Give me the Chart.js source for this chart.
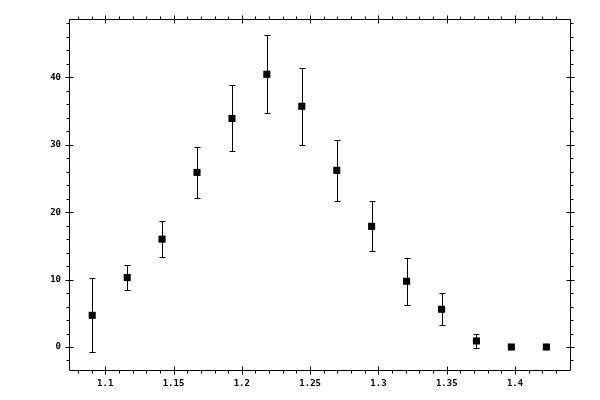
<!DOCTYPE html>
<html>
<head>
    <title>Scatter with error bars</title>
    <script src="https://cdn.jsdelivr.net/npm/chart.js"></script>
    <style>
        body { margin: 0; background: #fff; }
        #wrap { width: 600px; height: 400px; position: relative; }
    </style>
</head>
<body>
    <div id="wrap"><canvas id="plot"></canvas></div>

    <script>
        // data
        const xValues = [1.0905, 1.1161, 1.1416, 1.1672, 1.1928, 1.2183, 1.2439,
                         1.2695, 1.2950, 1.3206, 1.3462, 1.3717, 1.3973, 1.4229];
        const yValues = [4.7, 10.3, 16.0, 25.9, 33.9, 40.45, 35.7,
                         26.2, 17.9, 9.75, 5.6, 0.9, 0, 0];
        const yErrors = [5.5, 1.8, 2.7, 3.8, 4.9, 5.8, 5.7,
                         4.5, 3.7, 3.45, 2.4, 1.0, 0, 0];

        const xTicks = [1.1, 1.15, 1.2, 1.25, 1.3, 1.35, 1.4];
        const yTicks = [0, 10, 20, 30, 40];
        const xMinorStep = 0.01;
        const yMinorStep = 2;

        const points = xValues.map((x, i) => ({ x: x, y: yValues[i] }));

        // vertical error bars with small caps
        const errorBars = {
            id: 'errorBars',
            afterDatasetsDraw(chart) {
                const ctx = chart.ctx;
                const xs = chart.scales.x, ys = chart.scales.y;
                ctx.save();
                ctx.strokeStyle = '#000';
                ctx.lineWidth = 1;
                xValues.forEach((x, i) => {
                    const e = yErrors[i];
                    if (!e) return;
                    const px = Math.round(xs.getPixelForValue(x)) + 0.5;
                    const top = Math.round(ys.getPixelForValue(yValues[i] + e)) + 0.5;
                    const bot = Math.round(ys.getPixelForValue(yValues[i] - e)) + 0.5;
                    ctx.beginPath();
                    ctx.moveTo(px, top); ctx.lineTo(px, bot);
                    ctx.moveTo(px - 3, top); ctx.lineTo(px + 3, top);
                    ctx.moveTo(px - 3, bot); ctx.lineTo(px + 3, bot);
                    ctx.stroke();
                });
                ctx.restore();
            }
        };

        // box frame with ticks on all four sides
        const frame = {
            id: 'frame',
            afterDraw(chart) {
                const ctx = chart.ctx;
                const a = chart.chartArea;
                const xs = chart.scales.x, ys = chart.scales.y;
                const L = Math.round(a.left) + 0.5, R = Math.round(a.right) + 0.5;
                const T = Math.round(a.top) + 0.5, B = Math.round(a.bottom) + 0.5;
                ctx.save();
                ctx.strokeStyle = '#000';
                ctx.lineWidth = 1;
                ctx.beginPath();
                ctx.rect(L, T, R - L, B - T);

                const isMajor = (v, list) => list.some(t => Math.abs(t - v) < 1e-6);

                // x ticks (bottom and top)
                const x0 = Math.ceil(xs.min / xMinorStep) * xMinorStep;
                for (let v = x0; v <= xs.max + 1e-9; v += xMinorStep) {
                    const vv = Math.round(v * 1000) / 1000;
                    const px = Math.round(xs.getPixelForValue(vv)) + 0.5;
                    if (px <= L || px >= R) continue;
                    if (isMajor(vv, xTicks)) {
                        ctx.moveTo(px, B - 4); ctx.lineTo(px, B + 4);
                        ctx.moveTo(px, T + 4); ctx.lineTo(px, T - 4);
                    } else {
                        ctx.moveTo(px, B); ctx.lineTo(px, B + 3);
                        ctx.moveTo(px, T); ctx.lineTo(px, T - 3);
                    }
                }
                // y ticks (left and right)
                const y0 = Math.ceil(ys.min / yMinorStep) * yMinorStep;
                for (let v = y0; v <= ys.max + 1e-9; v += yMinorStep) {
                    const py = Math.round(ys.getPixelForValue(v)) + 0.5;
                    if (py <= T || py >= B) continue;
                    if (isMajor(v, yTicks)) {
                        ctx.moveTo(L - 4, py); ctx.lineTo(L + 4, py);
                        ctx.moveTo(R + 4, py); ctx.lineTo(R - 4, py);
                    } else {
                        ctx.moveTo(L, py); ctx.lineTo(L - 3, py);
                        ctx.moveTo(R, py); ctx.lineTo(R + 3, py);
                    }
                }
                ctx.stroke();
                ctx.restore();
            }
        };

        const tickFont = { family: 'DejaVu Sans Mono', size: 9, weight: 'bold' };

        new Chart(document.getElementById('plot'), {
            type: 'scatter',
            data: {
                datasets: [{
                    data: points,
                    pointStyle: 'rect',
                    pointRadius: 5,
                    pointHoverRadius: 5,
                    backgroundColor: '#000',
                    borderWidth: 0
                }]
            },
            options: {
                responsive: true,
                maintainAspectRatio: false,
                animation: false,
                layout: { padding: { top: 19, right: 30, left: 0, bottom: 0 } },
                plugins: {
                    legend: { display: false },
                    tooltip: { enabled: false }
                },
                scales: {
                    x: {
                        type: 'linear',
                        min: 1.0735,
                        max: 1.4402,
                        afterBuildTicks: s => { s.ticks = xTicks.map(v => ({ value: v })); },
                        afterFit: s => { s.height = 30; },
                        grid: { display: false, drawTicks: false },
                        border: { display: false },
                        ticks: {
                            color: '#000',
                            font: tickFont,
                            padding: 8,
                            maxRotation: 0,
                            autoSkip: false,
                            callback: v => String(Math.round(v * 100) / 100)
                        }
                    },
                    y: {
                        type: 'linear',
                        min: -3.41,
                        max: 48.65,
                        afterBuildTicks: s => { s.ticks = yTicks.map(v => ({ value: v })); },
                        afterFit: s => { s.width = 69; },
                        grid: { display: false, drawTicks: false },
                        border: { display: false },
                        ticks: {
                            color: '#000',
                            font: tickFont,
                            padding: 8,
                            autoSkip: false,
                            callback: v => String(v)
                        }
                    }
                }
            },
            plugins: [errorBars, frame]
        });
    </script>
</body>
</html>
